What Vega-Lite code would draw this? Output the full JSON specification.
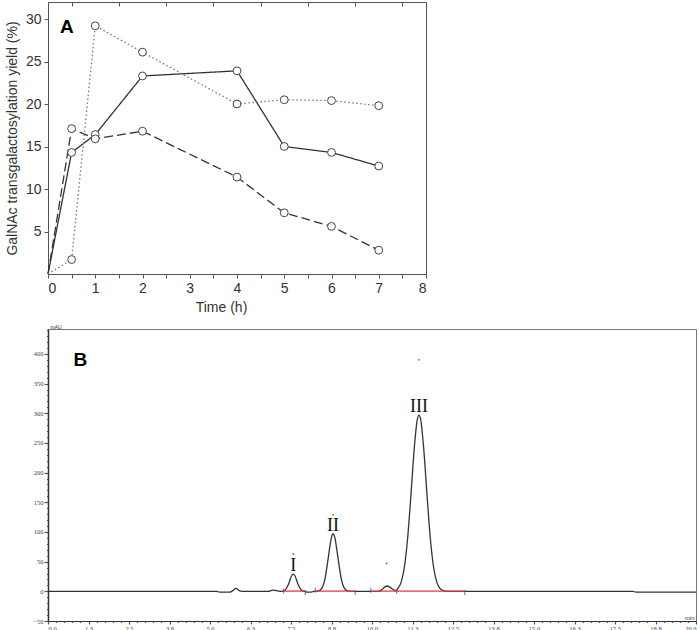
{
  "$schema": "https://vega.github.io/schema/vega-lite/v6.json",
  "padding": {"left": 4, "top": 1, "right": 0, "bottom": 0},
  "spacing": 8,
  "background": "white",
  "config": {"font": "Liberation Sans", "axis": {"grid": false}},
  "datasets": {
    "yield": [
      {"t": 0, "y": 0, "s": "Series 1"}, {"t": 0.5, "y": 14.3, "s": "Series 1"}, {"t": 1, "y": 16.4, "s": "Series 1"}, {"t": 2, "y": 23.3, "s": "Series 1"}, {"t": 4, "y": 23.9, "s": "Series 1"}, {"t": 5, "y": 15.0, "s": "Series 1"}, {"t": 6, "y": 14.3, "s": "Series 1"}, {"t": 7, "y": 12.7, "s": "Series 1"},
      {"t": 0, "y": 0, "s": "Series 2"}, {"t": 0.5, "y": 17.1, "s": "Series 2"}, {"t": 1, "y": 15.9, "s": "Series 2"}, {"t": 2, "y": 16.8, "s": "Series 2"}, {"t": 4, "y": 11.4, "s": "Series 2"}, {"t": 5, "y": 7.2, "s": "Series 2"}, {"t": 6, "y": 5.6, "s": "Series 2"}, {"t": 7, "y": 2.8, "s": "Series 2"},
      {"t": 0, "y": 0, "s": "Series 3"}, {"t": 0.5, "y": 1.7, "s": "Series 3"}, {"t": 1, "y": 29.2, "s": "Series 3"}, {"t": 2, "y": 26.1, "s": "Series 3"}, {"t": 4, "y": 20.0, "s": "Series 3"}, {"t": 5, "y": 20.5, "s": "Series 3"}, {"t": 6, "y": 20.4, "s": "Series 3"}, {"t": 7, "y": 19.8, "s": "Series 3"}
    ],
    "chrom": [
      {"t": 0, "v": 0}, {"t": 5.2, "v": 0}, {"t": 5.3, "v": -1.5}, {"t": 5.6, "v": -1.5}, {"t": 5.7, "v": 1}, {"t": 5.8, "v": 5}, {"t": 5.9, "v": 1}, {"t": 6.0, "v": 0},
      {"t": 6.8, "v": 0}, {"t": 6.9, "v": 1.5}, {"t": 6.95, "v": 2}, {"t": 7.05, "v": 1}, {"t": 7.15, "v": 0}, {"t": 7.25, "v": 0.5},
      {"t": 7.32, "v": 2.2}, {"t": 7.42, "v": 11.4}, {"t": 7.52, "v": 26.2}, {"t": 7.57, "v": 29}, {"t": 7.62, "v": 26.2}, {"t": 7.72, "v": 11.4}, {"t": 7.82, "v": 2.2}, {"t": 7.92, "v": 0},
      {"t": 8.0, "v": -1.5}, {"t": 8.1, "v": -1.5}, {"t": 8.2, "v": 0},
      {"t": 8.35, "v": 0.7}, {"t": 8.45, "v": 5.1}, {"t": 8.55, "v": 21.5}, {"t": 8.65, "v": 56.4}, {"t": 8.75, "v": 91.4}, {"t": 8.8, "v": 97}, {"t": 8.85, "v": 91.4}, {"t": 8.95, "v": 56.4}, {"t": 9.05, "v": 21.5}, {"t": 9.15, "v": 5.1}, {"t": 9.25, "v": 0.7}, {"t": 9.35, "v": 0},
      {"t": 10.2, "v": 0}, {"t": 10.3, "v": 2.5}, {"t": 10.4, "v": 7.5}, {"t": 10.47, "v": 9}, {"t": 10.55, "v": 7}, {"t": 10.65, "v": 3}, {"t": 10.75, "v": 1},
      {"t": 10.8, "v": 4.8}, {"t": 10.9, "v": 15.4}, {"t": 11.0, "v": 41}, {"t": 11.1, "v": 89.5}, {"t": 11.2, "v": 161}, {"t": 11.3, "v": 238}, {"t": 11.4, "v": 290}, {"t": 11.45, "v": 297}, {"t": 11.5, "v": 290}, {"t": 11.6, "v": 238}, {"t": 11.7, "v": 161}, {"t": 11.8, "v": 89.5}, {"t": 11.9, "v": 41}, {"t": 12.0, "v": 15.4}, {"t": 12.1, "v": 4.8}, {"t": 12.2, "v": 1.2}, {"t": 12.3, "v": 0},
      {"t": 18.05, "v": 0}, {"t": 18.15, "v": -1.5}, {"t": 20, "v": -1.5}
    ],
    "peaks": [
      {"t": 7.57, "v": 29, "label": "I"}, {"t": 8.8, "v": 97, "label": "II"}, {"t": 11.45, "v": 297, "label": "III"}
    ],
    "apex": [
      {"t": 7.57, "v": 63}, {"t": 8.8, "v": 129}, {"t": 10.45, "v": 47}, {"t": 11.45, "v": 390}
    ],
    "bounds": [
      {"t": 7.27, "v": 0.5}, {"t": 7.94, "v": -2}, {"t": 8.25, "v": 2}, {"t": 9.48, "v": -2}, {"t": 9.96, "v": 2}, {"t": 10.76, "v": 0}, {"t": 12.86, "v": -2}
    ],
    "baseline": [
      {"t": 7.27, "t2": 7.94}, {"t": 8.25, "t2": 9.48}, {"t": 9.96, "t2": 12.86}
    ]
  },
  "vconcat": [
    {
      "width": 378,
      "height": 272,
      "view": {"stroke": "#555", "strokeWidth": 1},
      "resolve": {"axis": {"x": "independent"}},
      "layer": [
        {
          "data": {"name": "yield"},
          "mark": {"type": "line", "strokeWidth": 1.3},
          "encoding": {
            "x": {"field": "t", "type": "quantitative", "scale": {"domain": [0, 8], "nice": false},
              "axis": {"title": "Time (h)", "values": [0, 0.5, 1, 1.5, 2, 2.5, 3, 3.5, 4, 4.5, 5, 5.5, 6, 6.5, 7, 7.5, 8], "tickCount": 200,
                "labelExpr": "datum.value % 1 === 0 ? format(datum.value, 'd') : ''",
                "tickSize": 4, "labelPadding": 3, "labelFontSize": 14, "labelColor": "#333", "domainColor": "#555", "tickColor": "#555",
                "titleFontSize": 14, "titleFontWeight": "normal", "titleColor": "#333", "titlePadding": 5, "titleX": 173}},
            "y": {"field": "y", "type": "quantitative", "scale": {"domain": [0, 32], "nice": false},
              "axis": {"title": "GalNAc transgalactosylation yield (%)", "values": [5, 10, 15, 20, 25, 30], "tickCount": 200, "format": "d",
                "tickSize": 4, "labelPadding": 3, "labelFontSize": 14, "labelColor": "#333", "domainColor": "#555", "tickColor": "#555",
                "titleFontSize": 14, "titleFontWeight": "normal", "titleColor": "#333", "titlePadding": 6}},
            "strokeDash": {"field": "s", "type": "nominal", "scale": {"domain": ["Series 1", "Series 2", "Series 3"], "range": [[1, 0], [9, 4], [1.5, 2.5]]}, "legend": null},
            "color": {"field": "s", "type": "nominal", "scale": {"domain": ["Series 1", "Series 2", "Series 3"], "range": ["#333333", "#333333", "#777777"]}, "legend": null}
          }
        },
        {
          "data": {"name": "yield"},
          "transform": [{"filter": "datum.t > 0"}],
          "mark": {"type": "point", "shape": "circle", "filled": true, "fill": "white", "stroke": "#444", "strokeWidth": 1, "size": 62, "opacity": 1},
          "encoding": {
            "x": {"field": "t", "type": "quantitative", "axis": null},
            "y": {"field": "y", "type": "quantitative"}
          }
        },
        {
          "data": {"values": [{"label": "A"}]},
          "mark": {"type": "text", "font": "Liberation Sans", "fontWeight": "bold", "fontSize": 19, "align": "center", "baseline": "middle", "color": "#000"},
          "encoding": {
            "x": {"datum": 0.4, "type": "quantitative",
              "axis": {"orient": "top", "title": null, "labels": false, "domain": false, "values": [0.5, 1.5, 2.5, 3.5, 4.5, 5.5, 6.5, 7.5], "tickCount": 200, "tickSize": -4, "tickColor": "#555"}},
            "y": {"datum": 29.1, "type": "quantitative"},
            "text": {"field": "label"}
          }
        }
      ]
    },
    {
      "width": 648,
      "height": 292,
      "view": {"stroke": "#777", "strokeWidth": 1},
      "layer": [
        {
          "data": {"name": "chrom"},
          "mark": {"type": "line", "interpolate": "monotone", "strokeWidth": 1.3, "color": "#333"},
          "encoding": {
            "x": {"field": "t", "type": "quantitative", "scale": {"domain": [0, 20], "nice": false},
              "axis": {"title": "min", "titleFontSize": 6, "titleFont": "Liberation Sans", "titleFontWeight": "normal", "titleColor": "#333",
                "titleAlign": "right", "titleAnchor": null, "titleX": 646, "titleY": -1, "titleBaseline": "bottom",
                "values": [0,0.25,0.5,0.75,1,1.25,1.5,1.75,2,2.25,2.5,2.75,3,3.25,3.5,3.75,4,4.25,4.5,4.75,5,5.25,5.5,5.75,6,6.25,6.5,6.75,7,7.25,7.5,7.75,8,8.25,8.5,8.75,9,9.25,9.5,9.75,10,10.25,10.5,10.75,11,11.25,11.5,11.75,12,12.25,12.5,12.75,13,13.25,13.5,13.75,14,14.25,14.5,14.75,15,15.25,15.5,15.75,16,16.25,16.5,16.75,17,17.25,17.5,17.75,18,18.25,18.5,18.75,19,19.25,19.5,19.75,20],
                "tickCount": 500,
                "labelExpr": "(datum.value * 4) % 5 === 0 ? format(datum.value, '.1f') : ''",
                "labelFont": "Liberation Serif", "labelFontSize": 6.5, "labelColor": "#444", "labelPadding": 1, "labelFlush": true, "labelOverlap": false,
                "tickSize": {"condition": {"test": "(datum.value * 4) % 5 === 0", "value": 3}, "value": 1.5},
                "tickWidth": 1.2, "tickColor": "#555", "domainColor": "#333", "domainWidth": 1.2}},
            "y": {"field": "v", "type": "quantitative", "scale": {"domain": [-50, 442], "nice": false, "zero": false},
              "axis": {"title": "mAU", "titleFontSize": 5, "titleFont": "Liberation Sans", "titleFontWeight": "normal", "titleColor": "#333",
                "titleAngle": 0, "titleAlign": "left", "titleAnchor": null, "titleX": 2, "titleY": 0, "titleBaseline": "bottom",
                "values": [-50,-40,-30,-20,-10,0,10,20,30,40,50,60,70,80,90,100,110,120,130,140,150,160,170,180,190,200,210,220,230,240,250,260,270,280,290,300,310,320,330,340,350,360,370,380,390,400,410,420,430,440],
                "tickCount": 500, "format": "d",
                "labelExpr": "datum.value % 50 === 0 ? datum.label : ''",
                "labelFont": "Liberation Serif", "labelFontSize": 6.5, "labelColor": "#444", "labelPadding": 1, "labelFlush": false, "labelOverlap": false,
                "tickSize": {"condition": {"test": "datum.value % 50 === 0", "value": 4}, "value": 1.5},
                "tickWidth": 1.2, "tickColor": "#555", "domainColor": "#333", "domainWidth": 1.5}}
          }
        },
        {
          "data": {"name": "baseline"},
          "mark": {"type": "rule", "color": "#e8383d", "strokeWidth": 1.3},
          "encoding": {
            "x": {"field": "t", "type": "quantitative"},
            "x2": {"field": "t2"},
            "y": {"datum": 0.4, "type": "quantitative"}
          }
        },
        {
          "data": {"name": "bounds"},
          "mark": {"type": "tick", "orient": "vertical", "size": 5, "thickness": 1.2, "color": "#4a4adf"},
          "encoding": {
            "x": {"field": "t", "type": "quantitative"},
            "y": {"field": "v", "type": "quantitative"}
          }
        },
        {
          "data": {"name": "apex"},
          "mark": {"type": "circle", "size": 3, "color": "#666", "opacity": 1},
          "encoding": {
            "x": {"field": "t", "type": "quantitative"},
            "y": {"field": "v", "type": "quantitative"}
          }
        },
        {
          "data": {"name": "peaks"},
          "mark": {"type": "text", "font": "Liberation Serif", "fontSize": 18, "align": "center", "baseline": "alphabetic", "dy": -3, "color": "#111"},
          "encoding": {
            "x": {"field": "t", "type": "quantitative"},
            "y": {"field": "v", "type": "quantitative"},
            "text": {"field": "label"}
          }
        },
        {
          "data": {"values": [{"label": "B"}]},
          "mark": {"type": "text", "font": "Liberation Sans", "fontWeight": "bold", "fontSize": 19, "align": "center", "baseline": "middle", "color": "#000"},
          "encoding": {
            "x": {"datum": 1.0, "type": "quantitative"},
            "y": {"datum": 390, "type": "quantitative"},
            "text": {"field": "label"}
          }
        }
      ]
    }
  ]
}
